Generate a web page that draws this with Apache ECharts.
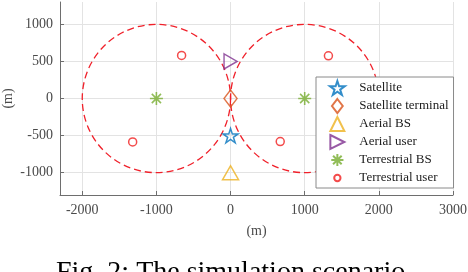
<!DOCTYPE html>
<html>
<head>
<meta charset="utf-8">
<script src="https://cdn.jsdelivr.net/npm/echarts@6/dist/echarts.min.js"></script>
<style>html,body{margin:0;padding:0;background:#fff}#c{width:468px;height:272px}</style>
</head>
<body>
<div id="c"></div>
<script>
// ---- data ----
var xTicks = [-2000, -1000, 0, 1000, 2000, 3000];
var yTicks = [-1000, -500, 0, 500, 1000];
var cellCenters = [[-1000, 0], [1000, 0]];
var cellRadius = [1000, 1000];
var satellite = [[0, -500]];
var satTerminal = [[0, 0]];
var aerialBS = [[0, -1000]];
var aerialUser = [[0, 500]];
var terrBS = [[-1000, 0], [1000, 0]];
var terrUser = [[-660, 580], [-1320, -585], [1320, 575], [670, -580]];
var legendNames = ['Satellite', 'Satellite terminal', 'Aerial BS', 'Aerial user', 'Terrestrial BS', 'Terrestrial user'];

var serif = 'Liberation Serif';
var starPath = 'path://M0,-1L0.2245,-0.309L0.951,-0.309L0.363,0.118L0.588,0.809L0,0.382L-0.588,0.809L-0.363,0.118L-0.951,-0.309L-0.2245,-0.309Z';
var asteriskPath = 'path://M0,-1L0,1M-1,0L1,0M-0.707,-0.707L0.707,0.707M-0.707,0.707L0.707,-0.707';
var triRightPath = 'path://M0,0L1,0.5L0,1Z';
var triUpPath = 'path://M0.5,0L1,1L0,1Z';
var diamondPath = 'path://M0.5,0L1,0.65L0.5,1.3L0,0.65Z';
// legend-only icons (extra moveTo points pad the bounds so the glyph is drawn smaller)
var circleLegendIcon = 'path://M-1,-1M1,1M-0.45,0A0.45,0.45 0 1 1 0.45,0A0.45,0.45 0 1 1 -0.45,0Z';
var asteriskLegendIcon = 'path://M-1.15,-1.15M1.15,1.15M0,-1L0,1M-1,0L1,0M-0.707,-0.707L0.707,0.707M-0.707,0.707L0.707,-0.707';

function hollow(color, w) {
  return { color: 'transparent', borderColor: color, borderWidth: w || 1.5 };
}
function noComma(v) { return String(v); }

var cells = cellCenters.map(function (c, i) { return [c[0], c[1], cellRadius[i]]; });

var axisCommon = {
  axisLine: { show: true, onZero: false, lineStyle: { color: '#6e6e6e', width: 1 } },
  axisTick: { show: true, inside: true, length: 4, lineStyle: { color: '#6e6e6e' } },
  axisLabel: { fontFamily: serif, fontSize: 14, color: '#4a4a4a', formatter: noComma },
  splitLine: { show: true, lineStyle: { color: '#e3e3e3', width: 1 } },
  nameTextStyle: { fontFamily: serif, fontSize: 14, color: '#4a4a4a' },
  nameLocation: 'middle',
  nameMoveOverlap: false
};

var chart = echarts.init(document.getElementById('c'));
chart.setOption({
  animation: false,
  backgroundColor: '#fff',
  grid: { left: 60, right: 15, top: 2, bottom: 77, containLabel: false, outerBoundsMode: 'none' },
  xAxis: Object.assign({}, axisCommon, {
    type: 'value', min: -2300, max: 3000, name: '(m)', nameGap: 29,
    axisTick: Object.assign({}, axisCommon.axisTick, { customValues: xTicks }),
    axisLabel: Object.assign({}, axisCommon.axisLabel, { customValues: xTicks, margin: 8 })
  }),
  yAxis: Object.assign({}, axisCommon, {
    type: 'value', min: -1300, max: 1300, name: '(m)', nameGap: 45,
    axisTick: Object.assign({}, axisCommon.axisTick, { customValues: yTicks }),
    axisLabel: Object.assign({}, axisCommon.axisLabel, { customValues: yTicks, margin: 7 })
  }),
  legend: {
    orient: 'vertical', left: 316, top: 77,
    data: [
      { name: legendNames[0] },
      { name: legendNames[1] },
      { name: legendNames[2] },
      { name: legendNames[3] },
      { name: legendNames[4], icon: asteriskLegendIcon },
      { name: legendNames[5], icon: circleLegendIcon }
    ],
    itemWidth: 34, itemHeight: 14, itemGap: 2,
    symbolKeepAspect: true,
    padding: [3, 5, 2, 13],
    backgroundColor: '#fff', borderColor: '#8a8a8a', borderWidth: 1, borderRadius: 0,
    textStyle: { fontFamily: serif, fontSize: 13, color: '#1a1a1a' }
  },
  graphic: [{
    type: 'text', left: 56, top: 259,
    style: { text: 'Fig. 2: The simulation scenario', font: '28px "Liberation Serif"', fill: '#000' }
  }],
  series: [
    {
      type: 'custom', name: 'cells', data: cells, silent: true, z: 1,
      renderItem: function (params, api) {
        var c = api.coord([api.value(0), api.value(1)]);
        var r = api.size([api.value(2), 0])[0];
        return { type: 'circle', shape: { cx: c[0], cy: c[1], r: r },
          style: { fill: 'none', stroke: '#f0202a', lineWidth: 1.3, lineDash: [7, 4] } };
      }
    },
    { type: 'scatter', name: 'Satellite', data: satellite, symbol: starPath, symbolSize: 15, symbolKeepAspect: true, itemStyle: hollow('#0072BD'), z: 3 },
    { type: 'scatter', name: 'Satellite terminal', data: satTerminal, symbol: diamondPath, symbolSize: [13, 17], itemStyle: hollow('#D95319'), z: 3 },
    { type: 'scatter', name: 'Aerial BS', data: aerialBS, symbol: triUpPath, symbolSize: [16, 14], itemStyle: hollow('#EDB120'), z: 3 },
    { type: 'scatter', name: 'Aerial user', data: aerialUser, symbol: triRightPath, symbolSize: [13, 15], itemStyle: hollow('#7E2F8E'), z: 3 },
    { type: 'scatter', name: 'Terrestrial BS', data: terrBS, symbol: asteriskPath, symbolSize: 13, itemStyle: hollow('#77AC30', 1.6), z: 3 },
    { type: 'scatter', name: 'Terrestrial user', data: terrUser, symbol: 'circle', symbolSize: 8, itemStyle: hollow('#f01e1e'), z: 3 }
  ]
});
</script>
</body>
</html>
